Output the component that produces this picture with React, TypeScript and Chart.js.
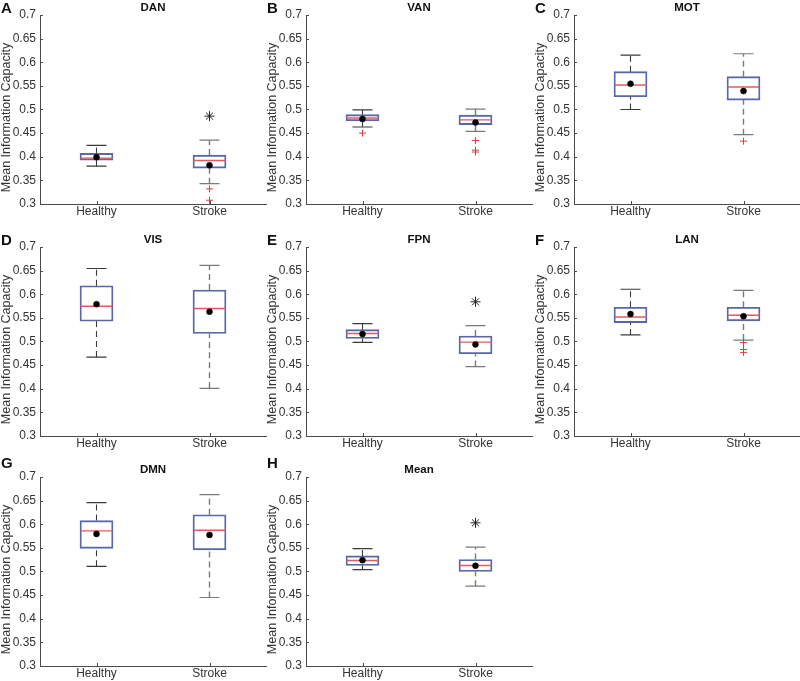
import React, { useEffect, useRef } from 'react';
import { Chart, registerables } from 'chart.js';

Chart.register(...registerables);

// ---------- data ----------
const networks = ['DAN', 'VAN', 'MOT', 'VIS', 'FPN', 'LAN', 'DMN', 'Mean'];
const panelLetters = ['A', 'B', 'C', 'D', 'E', 'F', 'G', 'H'];
const groups = ['Healthy', 'Stroke'];
const yAxisTitle = 'Mean Information Capacity';
const yMin = 0.3;
const yMax = 0.7;
const yStep = 0.05;

const healthyLow = [0.380, 0.463, 0.500, 0.467, 0.498, 0.514, 0.511, 0.504];
const healthyQ1 = [0.393, 0.476, 0.527, 0.543, 0.5065, 0.540, 0.549, 0.5127];
const healthyMedian = [0.397, 0.482, 0.552, 0.5745, 0.517, 0.552, 0.586, 0.5232];
const healthyQ3 = [0.407, 0.489, 0.580, 0.618, 0.525, 0.5725, 0.6077, 0.533];
const healthyHigh = [0.424, 0.499, 0.615, 0.6545, 0.538, 0.6106, 0.6458, 0.5486];
const healthyMean = [0.399, 0.480, 0.5545, 0.579, 0.5157, 0.558, 0.5796, 0.524];
const healthyOutliers = [[], [0.450], [], [], [], [], [], []];

const strokeLow = [0.343, 0.4535, 0.4467, 0.401, 0.447, 0.503, 0.445, 0.469];
const strokeQ1 = [0.376, 0.468, 0.520, 0.517, 0.474, 0.5437, 0.5458, 0.500];
const strokeMedian = [0.392, 0.478, 0.5475, 0.570, 0.4987, 0.5556, 0.5873, 0.5127];
const strokeQ3 = [0.4035, 0.488, 0.5695, 0.609, 0.5115, 0.5725, 0.620, 0.5254];
const strokeHigh = [0.435, 0.501, 0.618, 0.661, 0.5334, 0.608, 0.6627, 0.5514];
const strokeMean = [0.382, 0.4725, 0.539, 0.563, 0.4938, 0.5535, 0.5775, 0.512];
const strokeOutliers = [[0.332, 0.308], [0.4345, 0.414, 0.410], [0.433], [], [], [0.498, 0.483, 0.477], [], []];
const strokeStar = [0.486, null, null, null, 0.584, null, null, 0.603];

// ---------- layout / style ----------
const CANVAS_W = 270;
const CANVAS_H = 228;
const TOP_PAD = 20;
const PLOT_H = 189;
const colLefts = [0, 266, 534];
const rowPlotTops = [15, 247, 477];
const rowLetterDy = [-2, -2, -9];
const FONT = '"Liberation Sans", Arial, Helvetica, sans-serif';
const AXIS_COLOR = '#4a4a4a';
const TEXT_COLOR = '#333333';
const BOX_COLOR = '#5767a8';
const MEDIAN_COLOR = '#e05a60';
const OUTLIER_COLOR = '#e03a3a';
const HEALTHY_WHISKER = '#3a3a3a';
const STROKE_WHISKER = '#7a7a7a';

const decorPlugin = {
  id: 'decor',
  afterDraw(chart: any, _args: any, opts: any) {
    const { ctx, chartArea, scales } = chart;
    ctx.save();
    ctx.strokeStyle = AXIS_COLOR;
    ctx.lineWidth = 1;
    scales.y.ticks.forEach((t: any) => {
      const y = Math.round(scales.y.getPixelForValue(t.value)) + 0.5;
      ctx.beginPath();
      ctx.moveTo(chartArea.left, y);
      ctx.lineTo(chartArea.left + 3, y);
      ctx.stroke();
    });
    groups.forEach((_g, i) => {
      const x = Math.round(scales.x.getPixelForValue(i)) + 0.5;
      ctx.beginPath();
      ctx.moveTo(x, chartArea.bottom);
      ctx.lineTo(x, chartArea.bottom - 3);
      ctx.stroke();
    });
    // title
    ctx.fillStyle = '#111';
    ctx.font = `bold 11.5px ${FONT}`;
    ctx.textAlign = 'center';
    ctx.textBaseline = 'middle';
    ctx.fillText(opts.title, (chartArea.left + chartArea.right) / 2, chartArea.top - 7.5);
    // panel letter
    ctx.font = `bold 15px ${FONT}`;
    ctx.textAlign = 'left';
    ctx.textBaseline = 'alphabetic';
    ctx.fillText(opts.letter, 1, chartArea.top + opts.letterDy);
    // y axis title
    ctx.translate(chartArea.left - 33, (chartArea.top + chartArea.bottom) / 2 + 8);
    ctx.rotate(-Math.PI / 2);
    ctx.font = `12.5px ${FONT}`;
    ctx.fillStyle = TEXT_COLOR;
    ctx.textAlign = 'center';
    ctx.textBaseline = 'middle';
    ctx.fillText(yAxisTitle, 0, 0);
    ctx.restore();
  },
};

function whisker(group: string, from: number, to: number, color: string, width: number) {
  return {
    type: 'line',
    data: [{ x: group, y: from }, { x: group, y: to }],
    borderColor: color,
    borderWidth: width,
    borderDash: [6, 4],
    pointRadius: 0,
    showLine: true,
    order: 4,
  };
}

function Panel({ index }: { index: number }) {
  const ref = useRef<HTMLCanvasElement | null>(null);
  useEffect(() => {
    if (!ref.current) return;
    const i = index;
    const outlierPts = [
      ...healthyOutliers[i].map((y) => ({ x: 'Healthy', y })),
      ...strokeOutliers[i].map((y) => ({ x: 'Stroke', y })),
    ];
    const starPts = strokeStar[i] == null ? [] : [{ x: 'Stroke', y: strokeStar[i] }];
    const chart = new Chart(ref.current, {
      type: 'bar',
      data: {
        labels: groups,
        datasets: [
          {
            type: 'line',
            data: [
              { x: 'Healthy', y: healthyMean[i] },
              { x: 'Stroke', y: strokeMean[i] },
            ],
            showLine: false,
            pointStyle: 'circle',
            pointRadius: 3,
            pointBackgroundColor: '#000',
            pointBorderColor: '#000',
            pointBorderWidth: 0.5,
            order: 0,
          },
          {
            type: 'line',
            data: starPts,
            showLine: false,
            pointStyle: 'star',
            pointRadius: 5,
            pointBorderColor: '#222',
            pointBorderWidth: 1,
            order: 0,
          },
          {
            type: 'line',
            data: outlierPts,
            showLine: false,
            pointStyle: 'cross',
            pointRadius: 3.5,
            pointBorderColor: OUTLIER_COLOR,
            pointBorderWidth: 1,
            order: 1,
          },
          {
            type: 'line',
            data: [
              { x: 'Healthy', y: healthyMedian[i] },
              { x: 'Stroke', y: strokeMedian[i] },
            ],
            showLine: false,
            pointStyle: 'line',
            pointRadius: 16,
            pointBorderColor: MEDIAN_COLOR,
            pointBorderWidth: 1.4,
            order: 2,
          },
          {
            type: 'line',
            data: [
              { x: 'Healthy', y: healthyHigh[i] },
              { x: 'Healthy', y: healthyLow[i] },
              { x: 'Stroke', y: strokeHigh[i] },
              { x: 'Stroke', y: strokeLow[i] },
            ],
            showLine: false,
            pointStyle: 'line',
            pointRadius: 10,
            pointBorderColor: [HEALTHY_WHISKER, HEALTHY_WHISKER, STROKE_WHISKER, STROKE_WHISKER],
            pointBorderWidth: 1.2,
            order: 3,
          },
          whisker('Healthy', healthyQ3[i], healthyHigh[i], HEALTHY_WHISKER, 1.1),
          whisker('Healthy', healthyLow[i], healthyQ1[i], HEALTHY_WHISKER, 1.1),
          whisker('Stroke', strokeQ3[i], strokeHigh[i], STROKE_WHISKER, 1.4),
          whisker('Stroke', strokeLow[i], strokeQ1[i], STROKE_WHISKER, 1.4),
          {
            type: 'bar',
            data: [
              [healthyQ1[i], healthyQ3[i]],
              [strokeQ1[i], strokeQ3[i]],
            ],
            backgroundColor: 'rgba(255,255,255,0)',
            borderColor: BOX_COLOR,
            borderWidth: 1.2,
            borderSkipped: false,
            barThickness: 33,
            order: 5,
          },
        ] as any,
      },
      options: {
        animation: false,
        responsive: false,
        events: [],
        layout: { autoPadding: false, padding: { top: TOP_PAD, right: 4, left: 0, bottom: 0 } },
        plugins: {
          legend: { display: false },
          tooltip: { enabled: false },
          decor: { title: networks[i], letter: panelLetters[i], letterDy: rowLetterDy[Math.floor(i / 3)] },
        } as any,
        scales: {
          x: {
            type: 'category',
            labels: groups,
            offset: true,
            grid: { display: true, drawOnChartArea: false, drawTicks: false },
            border: { display: true, color: AXIS_COLOR, width: 1 },
            ticks: { color: TEXT_COLOR, font: { size: 12, family: FONT }, padding: 0 },
            afterFit: (s: any) => {
              s.height = CANVAS_H - TOP_PAD - PLOT_H;
            },
          },
          y: {
            type: 'linear',
            min: yMin,
            max: yMax,
            grid: { display: true, drawOnChartArea: false, drawTicks: false },
            border: { display: true, color: AXIS_COLOR, width: 1 },
            ticks: {
              stepSize: yStep,
              color: TEXT_COLOR,
              font: { size: 12, family: FONT },
              padding: 4,
              callback: (v: any) => parseFloat(Number(v).toFixed(2)).toString(),
            },
            afterFit: (s: any) => {
              s.width = 40;
            },
          },
        } as any,
      },
      plugins: [decorPlugin as any],
    });
    return () => chart.destroy();
  }, [index]);

  const row = Math.floor(index / 3);
  const col = index % 3;
  return (
    <div
      style={{
        position: 'absolute',
        left: colLefts[col],
        top: rowPlotTops[row] - TOP_PAD,
        width: CANVAS_W,
        height: CANVAS_H,
      }}
    >
      <canvas ref={ref} width={CANVAS_W} height={CANVAS_H} style={{ display: 'block' }} />
    </div>
  );
}

export default function App() {
  return (
    <div
      style={{
        position: 'fixed',
        left: 0,
        top: 0,
        width: 800,
        height: 681,
        overflow: 'hidden',
        background: '#fff',
      }}
    >
      {networks.map((_n, i) => (
        <Panel key={i} index={i} />
      ))}
    </div>
  );
}
